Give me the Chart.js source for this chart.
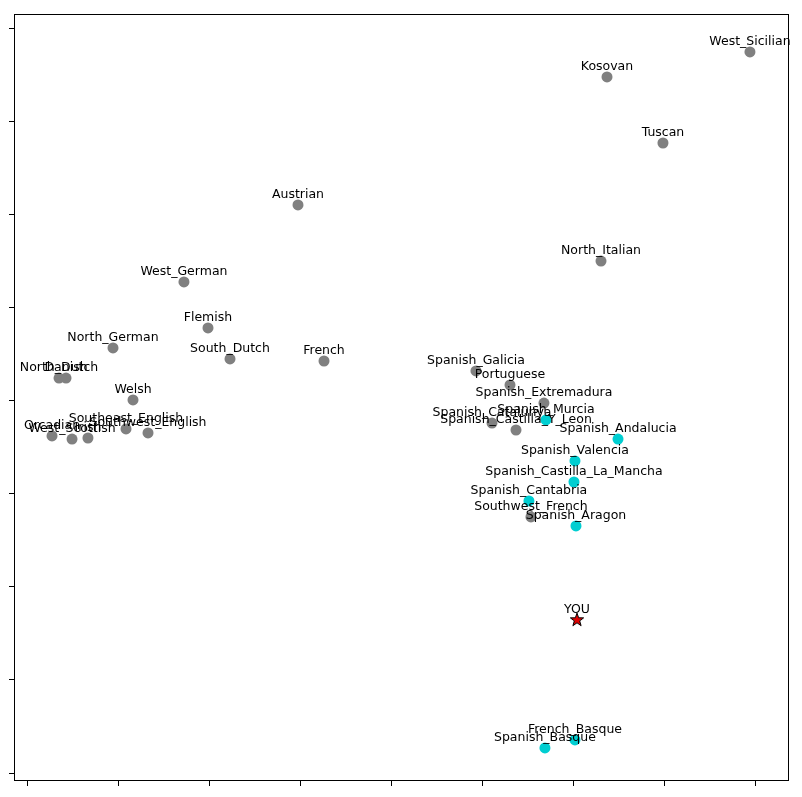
<!DOCTYPE html>
<html>
<head>
<meta charset="utf-8">
<script src="https://cdn.jsdelivr.net/npm/chart.js@4/dist/chart.umd.min.js"></script>
<style>
  html, body { margin: 0; padding: 0; background: #ffffff; }
  #wrap { position: relative; width: 802px; height: 797px; }
</style>
</head>
<body>
<div id="wrap"><canvas id="c"></canvas></div>
<script>
// ---- data ----
const names = [
  "West_Sicilian", "Kosovan", "Tuscan", "Austrian", "North_Italian",
  "West_German", "Flemish", "North_German", "South_Dutch", "French",
  "North_Dutch", "Danish", "Welsh", "Orcadian", "West_Scottish", "Irish",
  "Southeast_English", "Southwest_English",
  "Spanish_Galicia", "Portuguese", "Spanish_Extremadura", "Spanish_Catalunya",
  "Spanish_Castilla_Y_Leon", "Southwest_French"
];
const xs = [7.934, 6.363, 6.978, 2.967, 6.297,
            1.714, 1.978, 0.934, 2.220, 3.253,
            0.341, 0.418, 1.154, 0.264, 0.484, 0.659,
            1.077, 1.319,
            4.923, 5.297, 5.670, 5.099,
            5.363, 5.527];
const ys = [7.753, 7.484, 6.774, 6.108, 5.505,
            5.280, 4.785, 4.570, 4.452, 4.430,
            4.247, 4.247, 4.011, 3.624, 3.591, 3.602,
            3.699, 3.656,
            4.323, 4.172, 3.978, 3.763,
            3.688, 2.753];

const closeNames = [
  "Spanish_Murcia", "Spanish_Andalucia", "Spanish_Valencia",
  "Spanish_Castilla_La_Mancha", "Spanish_Cantabria", "Spanish_Aragon",
  "French_Basque", "Spanish_Basque"
];
const closeXs = [5.692, 6.484, 6.011, 6.000, 5.505, 6.022, 6.011, 5.681];
const closeYs = [3.796, 3.591, 3.355, 3.129, 2.925, 2.656, 0.355, 0.269];

const youName = ["YOU"];
const youXs = [6.033];
const youYs = [1.645];

const xTickValues = [0, 1, 2, 3, 4, 5, 6, 7, 8];
const yTickValues = [0, 1, 2, 3, 4, 5, 6, 7, 8];

// ---- helpers ----
function toPoints(xa, ya) { return xa.map((x, i) => ({ x: x, y: ya[i] })); }

function makeStar(size) {
  const cv = document.createElement('canvas');
  cv.width = size; cv.height = size;
  const g = cv.getContext('2d');
  const cx = size / 2, cy = size / 2, R = size / 2 - 1, r = R * 0.4;
  g.beginPath();
  for (let k = 0; k < 10; k++) {
    const ang = -Math.PI / 2 + k * Math.PI / 5;
    const rad = (k % 2 === 0) ? R : r;
    const px = cx + rad * Math.cos(ang), py = cy + rad * Math.sin(ang);
    if (k === 0) g.moveTo(px, py); else g.lineTo(px, py);
  }
  g.closePath();
  g.fillStyle = '#e00000';
  g.fill();
  g.lineWidth = 1;
  g.strokeStyle = '#000000';
  g.stroke();
  return cv;
}

const labelPlugin = {
  id: 'pointLabels',
  afterDatasetsDraw(chart) {
    const ctx = chart.ctx;
    ctx.save();
    ctx.font = '12.5px "DejaVu Sans"';
    ctx.fillStyle = '#000000';
    ctx.textAlign = 'center';
    ctx.textBaseline = 'alphabetic';
    const order = [2, 1, 0];
    order.forEach(di => {
      const ds = chart.data.datasets[di];
      const meta = chart.getDatasetMeta(di);
      meta.data.forEach((el, i) => {
        ctx.fillText(ds.names[i], el.x, el.y - 7);
      });
    });
    ctx.restore();
  }
};

const framePlugin = {
  id: 'frame',
  afterDraw(chart) {
    const a = chart.chartArea, ctx = chart.ctx;
    ctx.save();
    ctx.strokeStyle = '#000000';
    ctx.lineWidth = 1;
    ctx.strokeRect(Math.round(a.left) + 0.5, Math.round(a.top) + 0.5,
                   Math.round(a.right - a.left) - 1, Math.round(a.bottom - a.top) - 1);
    ctx.restore();
  }
};

new Chart(document.getElementById('c'), {
  type: 'scatter',
  data: {
    datasets: [
      {
        label: 'YOU',
        names: youName,
        data: toPoints(youXs, youYs),
        pointStyle: makeStar(16),
        pointRadius: 8,
        pointHoverRadius: 8
      },
      {
        label: 'closest',
        names: closeNames,
        data: toPoints(closeXs, closeYs),
        backgroundColor: '#00CED1',
        borderWidth: 0,
        pointRadius: 5.5,
        pointHoverRadius: 5.5
      },
      {
        label: 'others',
        names: names,
        data: toPoints(xs, ys),
        backgroundColor: '#808080',
        borderWidth: 0,
        pointRadius: 5.5,
        pointHoverRadius: 5.5
      }
    ]
  },
  options: {
    responsive: true,
    maintainAspectRatio: false,
    animation: false,
    layout: { padding: { top: 14, right: 13, left: 0, bottom: 0 } },
    plugins: {
      legend: { display: false },
      tooltip: { enabled: false },
      title: { display: false }
    },
    scales: {
      x: {
        type: 'linear',
        min: -0.1538,
        max: 8.363,
        afterBuildTicks: (s) => { s.ticks = xTickValues.map(v => ({ value: v })); },
        afterFit: (s) => { s.height = 16; },
        ticks: { display: false },
        grid: { drawOnChartArea: false, drawTicks: true, tickLength: 5, color: '#000000', lineWidth: 1 },
        border: { display: false }
      },
      y: {
        type: 'linear',
        min: -0.086,
        max: 8.161,
        afterBuildTicks: (s) => { s.ticks = yTickValues.map(v => ({ value: v })); },
        afterFit: (s) => { s.width = 14; },
        ticks: { display: false },
        grid: { drawOnChartArea: false, drawTicks: true, tickLength: 5, color: '#000000', lineWidth: 1 },
        border: { display: false }
      }
    }
  },
  plugins: [labelPlugin, framePlugin]
});
</script>
</body>
</html>
